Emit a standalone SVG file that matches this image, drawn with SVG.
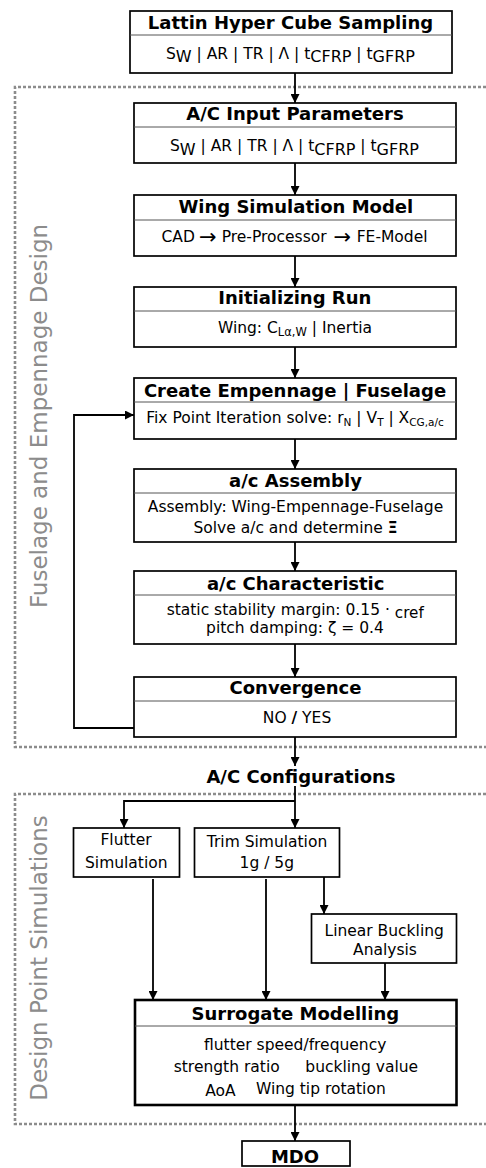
<svg xmlns="http://www.w3.org/2000/svg" width="486" height="1168" viewBox="0 0 486 1168">
<defs>
<marker id="ah" viewBox="0 0 10 10" refX="10" refY="5" markerWidth="9" markerHeight="9" markerUnits="userSpaceOnUse" orient="auto"><path d="M0,0 L10,5 L0,10 z" fill="#000"/></marker>
<style>
.box{fill:#fff;stroke:#000;stroke-width:1.7}
.bold{fill:#fff;stroke:#000;stroke-width:2.6}
.div{stroke:#555;stroke-width:1}
.t{font-family:"DejaVu Sans",Verdana,sans-serif;font-size:18px;font-weight:bold;text-anchor:middle;fill:#000}
.s{font-family:"DejaVu Sans",Verdana,sans-serif;font-size:15.5px;text-anchor:middle;fill:#000}
.con{fill:none;stroke:#000;stroke-width:1.8}
.dot{fill:none;stroke:#8c8c8c;stroke-width:2.6;stroke-dasharray:3 2}
.lab{font-family:"DejaVu Sans",sans-serif;font-size:23px;fill:#8c8c8c;text-anchor:middle}
</style>
</defs>
<rect width="486" height="1168" fill="#fff"/>

<g id="groups">
<path class="dot" d="M486,87 H15 V747 H486"/>
<path class="dot" d="M486,794 H15 V1124 H486"/>
<text class="lab" transform="translate(46.5,416) rotate(-90)">Fuselage and Empennage Design</text>
<text class="lab" transform="translate(46.5,958) rotate(-90)">Design Point Simulations</text>
</g>

<g id="connectors">
<path class="con" d="M295,73 V103" marker-end="url(#ah)"/>
<path class="con" d="M295,163 V195" marker-end="url(#ah)"/>
<path class="con" d="M295,256 V287" marker-end="url(#ah)"/>
<path class="con" d="M295,347 V378" marker-end="url(#ah)"/>
<path class="con" d="M295,439 V469" marker-end="url(#ah)"/>
<path class="con" d="M295,542 V571" marker-end="url(#ah)"/>
<path class="con" d="M295,644 V677" marker-end="url(#ah)"/>
<path class="con" d="M134,728 H74 V415 H134" marker-end="url(#ah)"/>
<path class="con" d="M295,737 V766" marker-end="url(#ah)"/>
<path class="con" d="M295,786 V828" marker-end="url(#ah)"/>
<path class="con" d="M295,801 H124 V828" marker-end="url(#ah)"/>
<path class="con" d="M324,877 V914" marker-end="url(#ah)"/>
<path class="con" d="M153,879 V1000" marker-end="url(#ah)"/>
<path class="con" d="M266,879 V1000" marker-end="url(#ah)"/>
<path class="con" d="M385,963 V1000" marker-end="url(#ah)"/>
<path class="con" d="M295,1105 V1141" marker-end="url(#ah)"/>
</g>

<g id="lhs">
<rect class="box" x="130" y="11" width="322" height="62"/>
<line class="div" x1="130" y1="35" x2="452" y2="35"/>
<text class="t" x="290.5" y="28.5">Lattin Hyper Cube Sampling</text>
<text class="s" x="290.5" y="58.5" font-size="16.5">S<tspan font-size="16" dy="3.5">W</tspan><tspan dy="-3.5"> | AR | TR | Λ | t</tspan><tspan font-size="16" dy="3.5">CFRP</tspan><tspan dy="-3.5"> | t</tspan><tspan font-size="16" dy="3.5">GFRP</tspan></text>
</g>

<g id="input">
<rect class="box" x="134" y="103" width="322" height="60"/>
<line class="div" x1="134" y1="127" x2="456" y2="127"/>
<text class="t" x="295" y="120" font-size="18.5">A/C Input Parameters</text>
<text class="s" x="294.5" y="151" font-size="16.5">S<tspan font-size="16" dy="3.5">W</tspan><tspan dy="-3.5"> | AR | TR | Λ | t</tspan><tspan font-size="16" dy="3.5">CFRP</tspan><tspan dy="-3.5"> | t</tspan><tspan font-size="16" dy="3.5">GFRP</tspan></text>
</g>

<g id="wing">
<rect class="box" x="134" y="195" width="322" height="61"/>
<line class="div" x1="134" y1="220" x2="456" y2="220"/>
<text class="t" x="295.8" y="213">Wing Simulation Model</text>
<text class="s" style="text-anchor:start"><tspan x="161.5" y="242">CAD</tspan><tspan x="199" y="243.5" font-size="21">→</tspan><tspan x="221.7" y="242">Pre-Processor</tspan><tspan x="333.5" y="243.5" font-size="21">→</tspan><tspan x="356.7" y="242">FE-Model</tspan></text>
</g>

<g id="init">
<rect class="box" x="134" y="287" width="322" height="60"/>
<line class="div" x1="134" y1="311" x2="456" y2="311"/>
<text class="t" x="294.8" y="304" font-size="18.3">Initializing Run</text>
<text class="s" x="295" y="332.5" font-size="17">Wing: C<tspan font-size="11.5" dy="3">Lα,W</tspan><tspan dy="-3"> | Inertia</tspan></text>
</g>

<g id="create">
<rect class="box" x="134" y="378" width="322" height="61"/>
<line class="div" x1="134" y1="402" x2="456" y2="402"/>
<text class="t" x="295" y="396.5" font-size="18.3">Create Empennage | Fuselage</text>
<text class="s" x="295" y="423" font-size="16.2">Fix Point Iteration solve: r<tspan font-size="10.5" dy="3">N</tspan><tspan dy="-3"> | V</tspan><tspan font-size="10.5" dy="3">T</tspan><tspan dy="-3"> | X</tspan><tspan font-size="10.5" dy="3">CG,a/c</tspan></text>
</g>

<g id="assembly">
<rect class="box" x="134" y="469" width="322" height="73"/>
<line class="div" x1="134" y1="493" x2="456" y2="493"/>
<text class="t" x="295.5" y="486.5" font-size="18.8">a/c Assembly</text>
<text class="s" x="295.5" y="511.5">Assembly: Wing-Empennage-Fuselage</text>
<text class="s" x="295.5" y="533">Solve a/c and determine <tspan font-weight="bold">Ξ</tspan></text>
</g>

<g id="characteristic">
<rect class="box" x="134" y="571" width="322" height="73"/>
<line class="div" x1="134" y1="595" x2="456" y2="595"/>
<text class="t" x="295.7" y="589.5" font-size="17">a/c Characteristic</text>
<text class="s" x="295.2" y="614.5" font-size="15.8">static stability margin: 0.15 · <tspan font-size="15.2" dy="3">cref</tspan></text>
<text class="s" x="295" y="633">pitch damping: ζ = 0.4</text>
</g>

<g id="convergence">
<rect class="box" x="134" y="677" width="322" height="60"/>
<line class="div" x1="134" y1="701" x2="456" y2="701"/>
<text class="t" x="295.5" y="694">Convergence</text>
<text class="s" x="297" y="722.5" font-size="16.8">NO <tspan font-weight="bold">/</tspan> YES</text>
</g>

<g id="configs">
<text class="t" x="301" y="782.5" font-size="17">A/C Configurations</text>
</g>

<g id="flutter">
<rect class="box" x="73.5" y="828" width="106" height="49"/>
<text class="s" x="126" y="845">Flutter</text>
<text class="s" x="126.3" y="867.5">Simulation</text>
</g>

<g id="trim">
<rect class="box" x="194.5" y="828" width="145" height="49"/>
<text class="s" x="267" y="846.5">Trim Simulation</text>
<text class="s" x="266.8" y="868">1g / 5g</text>
</g>

<g id="buckling">
<rect class="box" x="311.5" y="914" width="145" height="49"/>
<text class="s" x="384.2" y="935.5">Linear Buckling</text>
<text class="s" x="385" y="955">Analysis</text>
</g>

<g id="surrogate">
<rect class="bold" x="135" y="1000" width="321.5" height="105"/>
<line class="div" x1="135" y1="1026" x2="456.5" y2="1026"/>
<text class="t" x="295.3" y="1019.5">Surrogate Modelling</text>
<text class="s" x="295.2" y="1050">flutter speed/frequency</text>
<text class="s" x="226.7" y="1071.5">strength ratio</text>
<text class="s" x="361.7" y="1071.5">buckling value</text>
<text class="s" x="220.5" y="1096">AoA</text>
<text class="s" x="320.8" y="1093.5" font-size="14.6">Wing tip rotation</text>
</g>

<g id="mdo">
<rect class="box" x="242" y="1141" width="108" height="25"/>
<text class="t" x="295" y="1163" font-size="17.5">MDO</text>
</g>
</svg>
